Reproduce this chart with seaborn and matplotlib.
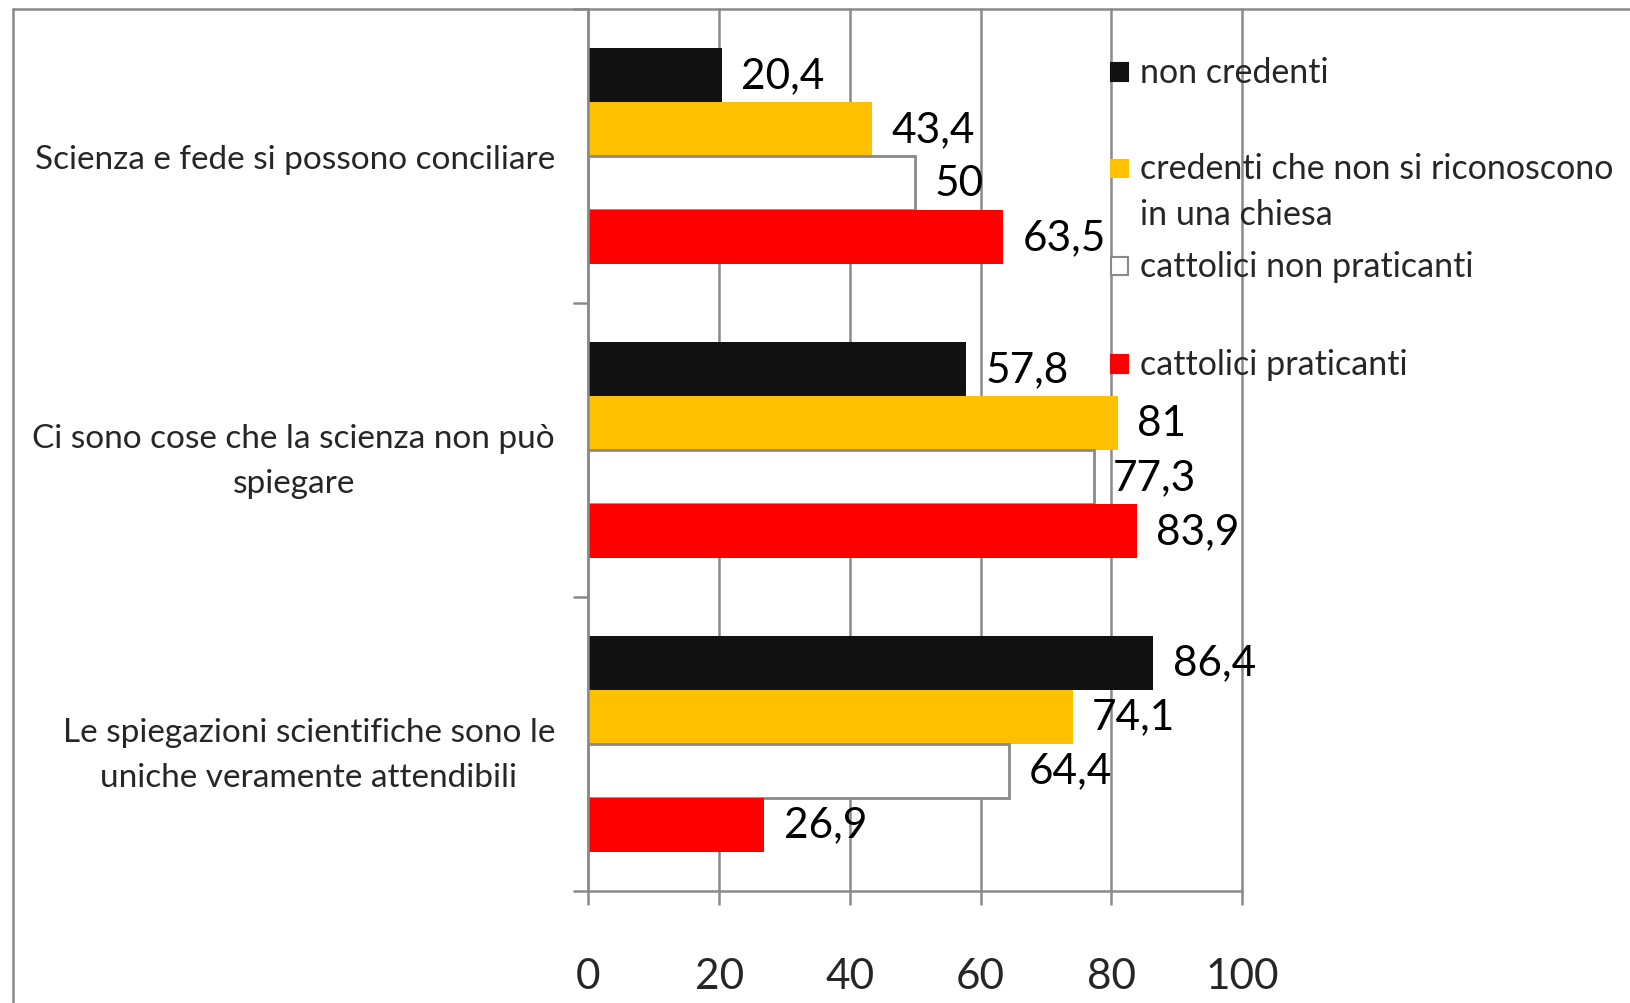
import matplotlib
matplotlib.use("Agg")
import matplotlib.pyplot as plt
import seaborn as sns
import pandas as pd
from matplotlib.patches import Rectangle
from matplotlib.lines import Line2D

categories = [
    "Scienza e fede si possono conciliare",
    "Ci sono cose che la scienza non può\nspiegare",
    "Le spiegazioni scientifiche sono le\nuniche veramente attendibili",
]
groups = [
    "non credenti",
    "credenti che non si riconoscono\nin una chiesa",
    "cattolici non praticanti",
    "cattolici praticanti",
]
non_credenti = [20.4, 57.8, 86.4]
credenti_no_chiesa = [43.4, 81, 74.1]
cattolici_non_praticanti = [50, 77.3, 64.4]
cattolici_praticanti = [63.5, 83.9, 26.9]
x_ticks = [0, 20, 40, 60, 80, 100]

colors = ["#111111", "#FFC000", "#FFFFFF", "#FF0000"]
series = [non_credenti, credenti_no_chiesa, cattolici_non_praticanti, cattolici_praticanti]

rows = []
for g, vals in zip(groups, series):
    for c, v in zip(categories, vals):
        rows.append({"categoria": c, "gruppo": g, "valore": v})
df = pd.DataFrame(rows)

sns.set_style("white")
FONT = ["Lato", "DejaVu Sans"]
plt.rcParams["font.family"] = FONT

fig = plt.figure(figsize=(16.3, 10.04), dpi=100)
ax = fig.add_axes([0.361, 0.112, 0.401, 0.878])

sns.barplot(data=df, y="categoria", x="valore", hue="gruppo",
            order=categories, hue_order=groups, palette=colors,
            orient="h", width=0.735, legend=False, ax=ax,
            saturation=1, edgecolor="none", linewidth=0)

grid_col = "#8a8a8a"
# white bars get a gray outline
for bar in ax.containers[2]:
    bar.set_edgecolor(grid_col)
    bar.set_linewidth(2)

def fmt(v):
    if float(v).is_integer():
        return str(int(v))
    return f"{v:.1f}".replace(".", ",")

for cont, vals in zip(ax.containers, series):
    ax.bar_label(cont, labels=[fmt(v) for v in vals], padding=14,
                 fontsize=30.5, color="black", family=FONT)

ax.set_xlim(0, 100)
ax.set_ylim(2.5, -0.5)
ax.set_xticks(x_ticks)
ax.set_xticklabels([str(t) for t in x_ticks])
ax.xaxis.grid(True, color=grid_col, linewidth=1.8)
for gl in ax.get_xgridlines():
    gl.set_clip_on(False)
ax.set_axisbelow(True)
ax.tick_params(axis="x", length=10, width=1.8, color=grid_col, pad=38,
               labelsize=30.5, bottom=True)
ax.set_yticks([0, 1, 2])
ax.set_yticklabels(categories, fontsize=24, multialignment="center", linespacing=1.65)
ax.set_yticks([-0.5, 0.5, 1.5, 2.5], minor=True)
ax.tick_params(axis="y", which="major", length=0, pad=24)
ax.tick_params(axis="y", which="minor", length=11, width=1.8, color=grid_col, left=True)
ax.set_xlabel("")
ax.set_ylabel("")
for s in ["top", "right"]:
    ax.spines[s].set_visible(False)
for s in ["left", "bottom"]:
    ax.spines[s].set_color(grid_col)
    ax.spines[s].set_linewidth(1.8)

# chart-area border (top and left edges visible)
fig.add_artist(Line2D([0.0077, 1.0], [0.9896, 0.9896], transform=fig.transFigure,
                      color=grid_col, linewidth=1.8))
fig.add_artist(Line2D([0.0077, 0.0077], [0.0, 0.9896], transform=fig.transFigure,
                      color=grid_col, linewidth=1.8))

# legend
leg_x = 0.6815
txt_x = 0.6996
leg_y = [0.9275, 0.8313, 0.734, 0.6366]
sq_w = 0.0108
sq_h = sq_w * 16.3 / 10.04
for g, col, y in zip(groups, colors, leg_y):
    ec = grid_col if col == "#FFFFFF" else col
    fig.add_artist(Rectangle((leg_x, y - sq_h / 2), sq_w, sq_h, transform=fig.transFigure,
                             facecolor=col, edgecolor=ec, linewidth=1.5))
    lines = g.split("\n")
    fig.text(txt_x, y, lines[0], fontsize=24.5, va="center", ha="left", family=FONT)
    if len(lines) > 1:
        fig.text(txt_x, y - 0.0456, lines[1], fontsize=24.5, va="center", ha="left", family=FONT)

fig.savefig("out.png", dpi=100)
